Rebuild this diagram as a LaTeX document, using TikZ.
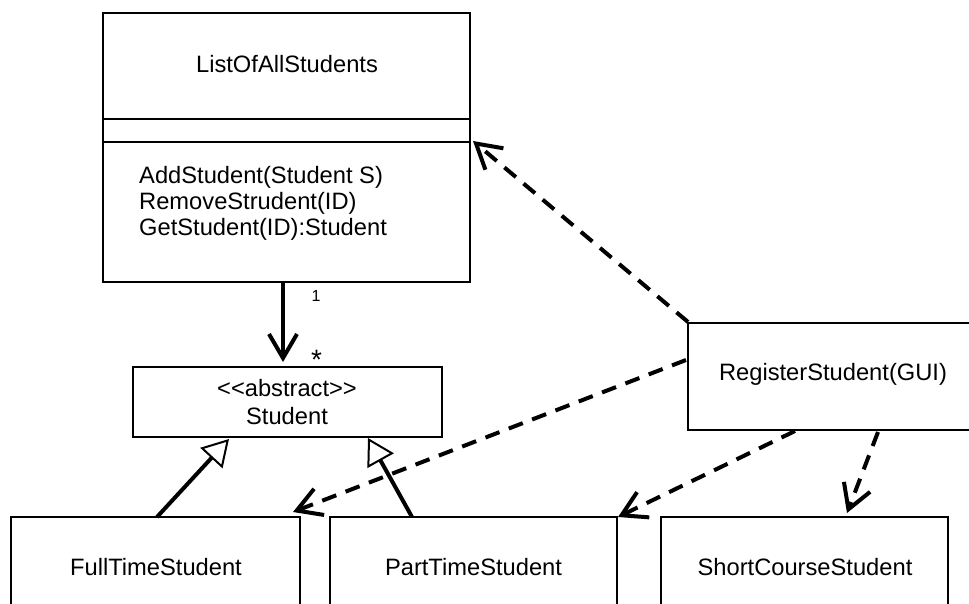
\documentclass[tikz,border=0pt]{standalone}
\usepackage{fontspec}
\setmainfont{Liberation Sans}
\usetikzlibrary{arrows.meta}
\begin{document}
\begin{tikzpicture}[x=1pt,y=-1pt,
  box/.style={draw, line width=2pt, inner sep=0pt},
  lbl/.style={font=\fontsize{23.7}{26}\selectfont, inner sep=0pt},
  small/.style={font=\fontsize{16}{18}\selectfont, inner sep=0pt},
  starlbl/.style={font=\fontsize{28}{30}\selectfont, inner sep=0pt},
  dep/.style={line width=4pt, dash pattern=on 15pt off 10pt, line cap=butt,
    -{Straight Barb[length=24pt,width=28pt,line width=4pt]}},
  assoc/.style={line width=4pt, -{Straight Barb[length=24pt,width=28pt,line width=4pt]}},
  gen/.style={line width=4pt, -{Triangle[open,length=26pt,width=30pt,line width=2pt]}}
]
\useasboundingbox (0,0) rectangle (969,604);
\clip (0,0) rectangle (969,604);

% boxes
\node[box, minimum width=367pt, minimum height=269pt] (list) at (286.5,147.5) {};
\node[box, minimum width=309pt, minimum height=70pt] (student) at (287.5,402) {};
\node[box, minimum width=289pt, minimum height=103pt] (full) at (155.5,568.5) {};
\node[box, minimum width=287pt, minimum height=103pt] (part) at (473.5,568.5) {};
\node[box, minimum width=287pt, minimum height=103pt] (short) at (804.5,568.5) {};
\node[box, minimum width=290pt, minimum height=107pt] (reg) at (833,376.5) {};

% compartments
\draw[line width=2.5pt] (list.west |- 0,119) -- (list.east |- 0,119);
\draw[line width=2.5pt] (list.west |- 0,142) -- (list.east |- 0,142);

% texts
\node[lbl] (title) at (287,64) {ListOfAllStudents};
\node[lbl, anchor=base west] (m1) at (139,184) {AddStudent(Student S)};
\node[lbl, anchor=base west] (m2) at (139,210) {RemoveStrudent(ID)};
\node[lbl, anchor=base west] (m3) at (139,236) {GetStudent(ID):Student};
\node[lbl, anchor=base] (stereo) at (287,396.5) {<\kern0pt<abstract>\kern0pt>};
\node[lbl, anchor=base] (sname) at (287,424) {Student};
\node[lbl, anchor=base] (fname) at (156,575) {FullTimeStudent};
\node[lbl, anchor=base] (pname) at (473.5,575) {PartTimeStudent};
\node[lbl, anchor=base] (shname) at (805,575) {ShortCourseStudent};
\node[lbl, anchor=base] (rname) at (833,380) {RegisterStudent(GUI)};
\node[small, anchor=base] (one) at (316,301) {1};
\node[starlbl, anchor=base] (many) at (316.5,369) {*};

% connector end points on the boxes
\coordinate (listS) at (283,282);
\coordinate (stN) at (283,362);
\coordinate (fullN) at (157,517);
\coordinate (stSL) at (229,439);
\coordinate (partN) at (412,517);
\coordinate (stSR) at (368,438);
\coordinate (regNW) at (688,322);
\coordinate (listE) at (473,141);
\coordinate (regW) at (686,360);
\coordinate (fullNE) at (293,512);
\coordinate (regS1) at (795,431);
\coordinate (partNE) at (618,517);
\coordinate (regS2) at (878,432);
\coordinate (shortN) at (847,513);

% connectors
\draw[assoc] (listS) -- (stN);
\draw[gen] (fullN) -- (stSL);
\draw[gen] (partN) -- (stSR);
\draw[dep] (regNW) -- (listE);
\draw[dep] (regW) -- (fullNE);
\draw[dep] (regS1) -- (partNE);
\draw[dep] (regS2) -- (shortN);
\end{tikzpicture}
\end{document}
